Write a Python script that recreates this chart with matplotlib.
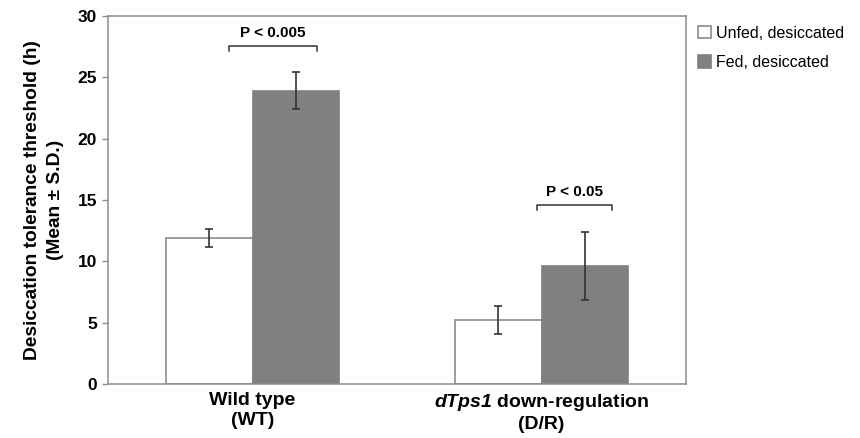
import matplotlib.pyplot as plt
import numpy as np

plt.rcParams['font.family'] = ['Liberation Sans', 'DejaVu Sans']
plt.rcParams['mathtext.fontset'] = 'custom'
plt.rcParams['mathtext.bfit'] = 'Liberation Sans:italic:bold'
plt.rcParams['mathtext.rm'] = 'Liberation Sans:bold'

# Data
groups = ['Wild type\n(WT)', '$\\mathbfit{dTps1}$ down-regulation\n(D/R)']
series = ['Unfed, desiccated', 'Fed, desiccated']
unfed = [11.9, 5.2]
unfed_sd = [0.75, 1.15]
fed = [23.9, 9.6]
fed_sd = [1.5, 2.75]
p_labels = ['P < 0.005', 'P < 0.05']
bracket_y = [27.55, 14.6]
bracket_x = [(-0.081, 0.223), (-0.016, 0.244)]

fig = plt.figure(figsize=(8.6, 4.38), dpi=100)
ax = fig.add_axes([0.1256, 0.1233, 0.6721, 0.8402])

x = np.arange(len(groups))
w = 0.3
err_kw = dict(ecolor='#333333', elinewidth=1.2, capsize=3, capthick=1.2)
ax.bar(x - w / 2, unfed, w, yerr=unfed_sd, color='white', edgecolor='#8c8c8c',
       linewidth=1.2, label=series[0], error_kw=err_kw)
ax.bar(x + w / 2, fed, w, yerr=fed_sd, color='#808080', edgecolor='#808080',
       linewidth=1.2, label=series[1], error_kw=err_kw)

# significance brackets
for i in range(len(groups)):
    x0 = x[i] + bracket_x[i][0]
    x1 = x[i] + bracket_x[i][1]
    y = bracket_y[i]
    ax.plot([x0, x0, x1, x1], [y - 0.4, y, y, y - 0.4], color='#333333', lw=1.1)
    ax.text((x0 + x1) / 2, y + 0.5, p_labels[i], ha='center', va='bottom',
            fontsize=11, fontweight='bold')

ax.set_xlim(-0.5, 1.5)
ax.set_ylim(0, 30)
ax.set_yticks(range(0, 31, 5))
ax.set_xticks(x)
ax.set_xticklabels(groups, fontsize=14, fontweight='bold', linespacing=1.2)
ax.tick_params(axis='x', length=0, pad=6)
ax.tick_params(axis='y', length=4, width=1, color='#8c8c8c', labelsize=12.5, pad=4)
for lab in ax.get_yticklabels():
    lab.set_fontweight('bold')
for s in ax.spines.values():
    s.set_color('#8c8c8c')
    s.set_linewidth(1.1)

ax.set_ylabel('Desiccation tolerance threshold (h)\n(Mean ± S.D.)', fontsize=13.8,
              fontweight='bold', labelpad=10, linespacing=1.45)

ax.legend(loc='upper left', bbox_to_anchor=(1.005, 1.0), frameon=False,
          fontsize=11.5, handlelength=0.8, handleheight=0.8, handletextpad=0.3,
          labelspacing=0.9, borderaxespad=0.2)

fig.savefig('out.png', dpi=100)
